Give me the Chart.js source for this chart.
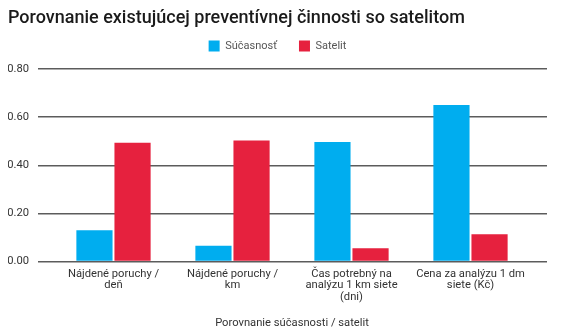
<!DOCTYPE html>
<html>
<head>
<meta charset="utf-8">
<script src="https://cdn.jsdelivr.net/npm/chart.js@4"></script>
<style>
  body { margin: 0; background: #fff; }
  #wrap { width: 572px; height: 336px; }
</style>
</head>
<body>
<div id="wrap"><canvas id="chart" width="572" height="336"></canvas></div>
<script>
// data
const categories = [
    ['Nájdené poruchy /', 'deň'],
    ['Nájdené poruchy /', 'km'],
    ['Čas potrebný na', 'analýzu 1 km siete', '(dni)'],
    ['Cena za analýzu 1 dm', 'siete (Kč)']
];
const seriesNames = ['Súčasnosť', 'Satelit'];
const sucasnost = [0.13, 0.065, 0.497, 0.65];
const satelit = [0.493, 0.503, 0.055, 0.113];
const yTicks = [0, 0.2, 0.4, 0.6, 0.8];

const gridColor = '#5c5c5c';

Chart.defaults.font.family = 'Roboto';
Chart.defaults.color = '#333';

const ctx = document.getElementById('chart').getContext('2d');

new Chart(ctx, {
    type: 'bar',
    data: {
        labels: categories,
        datasets: [{
            label: seriesNames[0],
            data: sucasnost,
            backgroundColor: '#00adef',
            xAxisID: 'x',
            yAxisID: 'y'
        }, {
            label: seriesNames[1],
            data: satelit,
            backgroundColor: '#e6213e',
            xAxisID: 'x',
            yAxisID: 'y'
        }]
    },
    options: {
        responsive: false,
        animation: false,
        layout: { padding: { left: 8, right: 25, top: 0, bottom: 0 } },
        datasets: {
            bar: { categoryPercentage: 0.64, barPercentage: 0.95 }
        },
        plugins: {
            title: {
                display: true,
                text: 'Porovnanie existujúcej preventívnej činnosti so satelitom',
                align: 'start',
                color: '#1a1a1a',
                font: { size: 18, weight: '500' },
                padding: { top: 7.2, bottom: -10.3 }
            },
            legend: {
                position: 'top',
                labels: {
                    boxWidth: 11,
                    boxHeight: 11,
                    padding: 22,
                    color: '#555',
                    font: { size: 11 }
                }
            },
            tooltip: { enabled: false }
        },
        scales: {
            x: {
                position: 'bottom',
                grid: { display: false, drawTicks: false },
                border: { display: false },
                ticks: {
                    padding: 6.7,
                    maxRotation: 0,
                    color: '#333',
                    font: { size: 11.2, lineHeight: 1.03 }
                },
                title: {
                    display: true,
                    text: 'Porovnanie súčasnosti / satelit',
                    color: '#333',
                    font: { size: 11.2 },
                    padding: { top: 0, bottom: 6.4 }
                },
                afterFit: s => { s.height = 74.5; }
            },
            xTop: {
                type: 'linear',
                position: 'top',
                display: true,
                grid: { display: false, drawTicks: false },
                border: { display: false },
                ticks: { display: false },
                afterFit: s => { s.height = 7.5; }
            },
            y: {
                position: 'left',
                min: 0,
                max: 0.8,
                afterBuildTicks: s => { s.ticks = yTicks.map(v => ({ value: v })); },
                grid: { color: gridColor, lineWidth: 1.5, drawTicks: true, tickLength: 16 },
                border: { display: false },
                ticks: {
                    padding: 9,
                    color: '#333',
                    font: { size: 11.2 },
                    callback: v => v.toFixed(2)
                },
                afterFit: s => { s.width = 46; }
            },
            yRight: {
                position: 'right',
                min: 0,
                max: 0.8,
                afterBuildTicks: s => { s.ticks = yTicks.map(v => ({ value: v })); },
                grid: { color: gridColor, lineWidth: 1.5, drawOnChartArea: false, drawTicks: true, tickLength: 17 },
                border: { display: false },
                ticks: { display: false },
                afterFit: s => { s.width = 17; }
            }
        }
    }
});
</script>
</body>
</html>
